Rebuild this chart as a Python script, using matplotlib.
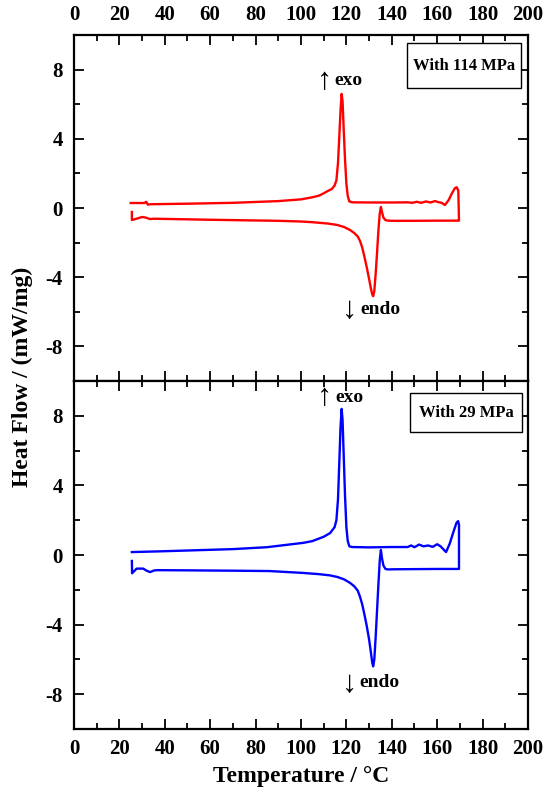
import matplotlib
matplotlib.use("Agg")
import matplotlib.pyplot as plt
from matplotlib.patches import Rectangle
from matplotlib.ticker import MultipleLocator

plt.rcParams['font.family'] = ['Liberation Serif', 'DejaVu Serif']
plt.rcParams['font.weight'] = 'bold'
plt.rcParams['axes.unicode_minus'] = False

# 114 MPa sample: exothermic (upper) branch, left to right
T114_up = [25, 31, 31.8, 32.5, 34, 50, 70, 90, 100, 105, 108, 110, 112, 113.6,
           114.8, 115.6, 116.3, 116.9, 117.4, 117.9, 118.3, 118.8, 119.4, 120,
           120.6, 121.3, 122.5, 130, 140, 147, 149, 151, 153, 155, 157, 159,
           160.5, 162, 163.4, 165, 166.5, 167.8, 168.6, 169.3, 169.6]
HF114_up = [0.29, 0.29, 0.36, 0.2, 0.22, 0.25, 0.3, 0.4, 0.5, 0.62, 0.72, 0.85,
            1.0, 1.1, 1.3, 1.6, 2.6, 4.2, 5.6, 6.6, 6.2, 4.6, 2.8, 1.4, 0.7,
            0.38, 0.33, 0.32, 0.32, 0.33, 0.3, 0.36, 0.3, 0.38, 0.32, 0.4, 0.34,
            0.3, 0.17, 0.45, 0.85, 1.15, 1.2, 1.0, -0.72]
# 114 MPa sample: endothermic (lower) branch, right to left
T114_dn = [169.6, 160, 150, 140, 138.5, 137.2, 136.3, 135.7, 135.2, 134.7,
           134.1, 133.5, 132.9, 132.3, 131.8, 131.4, 130.8, 130, 129, 128, 127,
           126, 125, 123.5, 121.6, 119, 116, 112, 105, 100, 90, 80, 60, 40, 35,
           33.5, 31.5, 30, 28, 26, 25.5, 25.5]
HF114_dn = [-0.73, -0.73, -0.74, -0.74, -0.73, -0.7, -0.55, -0.25, 0.06, -0.3,
            -1.3, -2.6, -3.8, -4.8, -5.1, -5.0, -4.65, -4.1, -3.45, -2.85, -2.3,
            -1.9, -1.65, -1.45, -1.27, -1.1, -0.98, -0.9, -0.82, -0.78, -0.74,
            -0.72, -0.68, -0.63, -0.62, -0.64, -0.55, -0.52, -0.6, -0.68, -0.69,
            -0.23]

# 29 MPa sample
T29_up = [25.5, 40, 60, 70, 85, 96.5, 101, 105, 108, 110, 112.8, 114.8, 115.6,
          116.3, 116.9, 117.4, 117.9, 118.3, 118.8, 119.4, 120, 120.6, 121.3,
          122.5, 130, 140, 147, 148.5, 150, 152, 154, 156, 158, 160, 161.5,
          163.9, 165.5, 167.2, 168.5, 169.2, 169.6, 169.6]
HF29_up = [0.17, 0.22, 0.3, 0.34, 0.45, 0.63, 0.7, 0.8, 0.95, 1.05, 1.26, 1.6,
           2.0, 3.2, 5.4, 7.3, 8.4, 7.8, 5.8, 3.4, 1.6, 0.8, 0.5, 0.46, 0.44,
           0.46, 0.46, 0.55, 0.45, 0.6, 0.5, 0.55, 0.47, 0.62, 0.5, 0.17, 0.65,
           1.35, 1.85, 1.95, 1.75, -0.8]
T29_dn = [169.6, 160, 150, 140, 138.5, 137.2, 136.3, 135.7, 135.2, 134.7, 134.1,
          133.5, 132.9, 132.3, 131.8, 131.4, 130.8, 130, 129, 128, 127, 126,
          125, 123.5, 121.6, 119, 116, 112.8, 108, 101, 86, 70, 50, 37, 35.5,
          33.5, 32, 30.5, 27.6, 25.6, 25.5]
HF29_dn = [-0.8, -0.8, -0.81, -0.82, -0.83, -0.8, -0.6, -0.2, 0.29, -0.3, -1.7,
           -3.2, -4.7, -6.0, -6.4, -6.2, -5.6, -4.85, -4.1, -3.45, -2.85, -2.4,
           -2.05, -1.8, -1.6, -1.4, -1.26, -1.17, -1.1, -1.03, -0.92, -0.9,
           -0.88, -0.87, -0.88, -0.98, -0.9, -0.78, -0.78, -1.05, -0.34]

fig = plt.figure(figsize=(5.48, 7.97), dpi=100)
ax1 = fig.add_axes([0.135, 0.522, 0.8285, 0.434])
ax2 = fig.add_axes([0.135, 0.0853, 0.8285, 0.4366])

ax1.plot(T114_up + T114_dn, HF114_up + HF114_dn, color='red', lw=1.7)
ax2.plot(T29_up + T29_dn, HF29_up + HF29_dn, color='blue', lw=1.7)

for ax in (ax1, ax2):
    ax.set_xlim(0, 200)
    ax.set_ylim(-10, 10)
    ax.xaxis.set_major_locator(MultipleLocator(20))
    ax.xaxis.set_minor_locator(MultipleLocator(10))
    ax.set_yticks([-8, -4, 0, 4, 8])
    ax.set_yticks([-6, -2, 2, 6], minor=True)
    ax.tick_params(which='both', direction='in', top=True, right=True,
                   width=1.3, labelsize=15)
    ax.tick_params(which='major', length=7)
    ax.tick_params(which='minor', length=4)
    ax.tick_params(axis='y', pad=8)
    for s in ax.spines.values():
        s.set_linewidth(1.6)

ax1.tick_params(axis='x', labelbottom=False, labeltop=True, pad=7)
ax2.tick_params(axis='x', pad=7)

# pressure boxes
ax1.add_patch(Rectangle((146.7, 6.94), 50.2, 2.6, fc='white', ec='black', lw=1.0, zorder=3))
ax1.text(171.8, 8.24, 'With 114 MPa', ha='center', va='center', fontsize=12, zorder=4)
ax2.add_patch(Rectangle((148.0, 7.07), 49.4, 2.24, fc='white', ec='black', lw=1.0, zorder=3))
ax2.text(172.7, 8.19, 'With 29 MPa', ha='center', va='center', fontsize=12, zorder=4)

# exo / endo markers
arrow_font = dict(family='Liberation Serif', weight='normal', fontsize=22)
ax1.text(110.2, 7.3, '↑', ha='center', va='center', **arrow_font)
ax1.text(114.8, 7.4, 'exo', ha='left', va='center', fontsize=14)
ax1.text(121.6, -5.95, '↓', ha='center', va='center', **arrow_font)
ax1.text(126.2, -5.85, 'endo', ha='left', va='center', fontsize=14)
ax2.text(110.4, 9.05, '↑', ha='center', va='center', **arrow_font)
ax2.text(115.0, 9.05, 'exo', ha='left', va='center', fontsize=14)
ax2.text(121.2, -7.45, '↓', ha='center', va='center', **arrow_font)
ax2.text(125.8, -7.35, 'endo', ha='left', va='center', fontsize=14)

fig.text(0.04, 0.527, 'Heat Flow / (mW/mg)', rotation=90, ha='center',
         va='center', fontsize=17)
fig.text(0.549, 0.026, 'Temperature / °C', ha='center', va='center', fontsize=17)

fig.savefig('out.png', dpi=100)
